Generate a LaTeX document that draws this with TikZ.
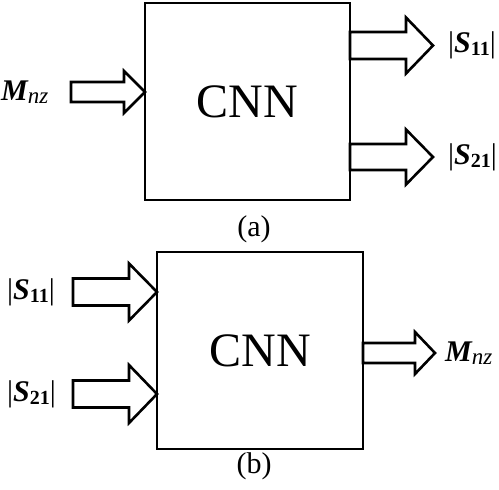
\documentclass[tikz,border=0pt]{standalone}
\usepackage{fontspec}
\setmainfont{Liberation Serif}
\newcommand\bigfont{\fontsize{48}{50}\selectfont}
\newcommand\labfont{\fontsize{30}{32}\selectfont}
\newcommand\subfont{\fontsize{20}{22}\selectfont}
\newcommand\capfont{\fontsize{30}{32}\selectfont}
\newcommand\Sxx[1]{|{\bfseries\itshape S}\raisebox{-0.1em}{\subfont\bfseries #1}|}
\newcommand\Mnz{{\bfseries\itshape M}\raisebox{-0.1em}{\fontsize{23}{24}\selectfont\itshape nz}}
\newcommand\fatarr[6]{%
  \draw[arr] (#1,#3-#4) -- (#6,#3-#4) -- (#6,#3-#5) -- (#2,#3) -- (#6,#3+#5) -- (#6,#3+#4) -- (#1,#3+#4) -- cycle;}
\begin{document}
\begin{tikzpicture}[x=1pt,y=-1pt,
  box/.style={draw,line width=2.8pt,minimum width=205pt,minimum height=197pt,inner sep=0pt,font=\bigfont},
  arr/.style={draw,line width=2.6pt,fill=white,line join=miter},
  lab/.style={inner sep=0pt,font=\labfont,anchor=west},
  captxt/.style={inner sep=0pt,font=\capfont}]
\useasboundingbox (0,0) rectangle (499,490);
% (a)
\node[box] (A) at (247.5,101.5) {CNN};
\fatarr{71}{145}{92}{10}{21}{124}
\fatarr{350}{433}{45.5}{13.5}{28}{406}
\fatarr{350}{433}{157}{13}{27.5}{406}
\node[lab] (am) at (1,92) {\Mnz};
\node[lab] (as1) at (448,45) {\Sxx{11}};
\node[lab] (as2) at (448,157) {\Sxx{21}};
\node[captxt] (ca) at (254,229) {(a)};
% (b)
\node[box,minimum width=206pt] (B) at (260,350.5) {CNN};
\fatarr{73}{157}{292}{13.5}{28.5}{129}
\fatarr{73}{157}{394}{13.5}{29}{129}
\fatarr{363}{435}{353}{10}{21}{415}
\node[lab] (bs1) at (7,292) {\Sxx{11}};
\node[lab] (bs2) at (7,394) {\Sxx{21}};
\node[lab] (bm) at (445,353) {\Mnz};
\node[captxt] (cb) at (254,466) {(b)};
\end{tikzpicture}
\end{document}
